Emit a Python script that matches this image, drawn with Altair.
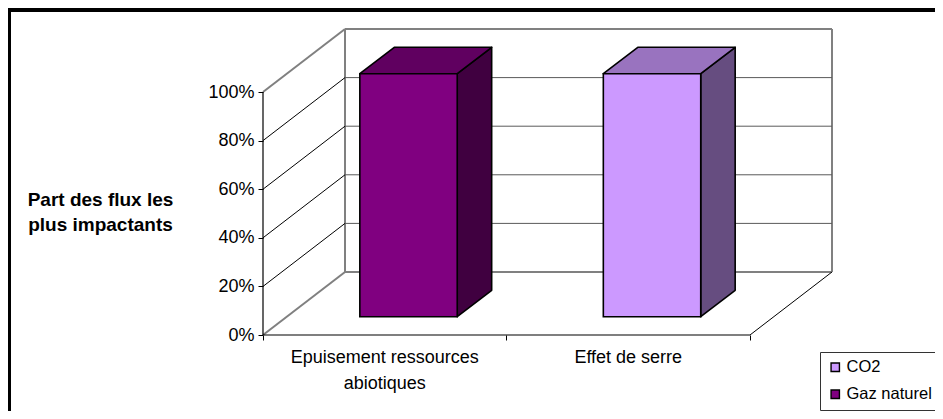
import altair as alt
import pandas as pd

# ---- chart values
categories = [["Epuisement ressources", "abiotiques"], ["Effet de serre"]]
series = ["Gaz naturel", "CO2"]
values = [100, 100]
percent_ticks = [0, 20, 40, 60, 80, 100]
legend_order = ["CO2", "Gaz naturel"]
front_colors = ["#800080", "#CC99FF"]
top_colors = ["#600060", "#9973BF"]
side_colors = ["#400040", "#664D80"]
axis_title = ["Part des flux les", "plus impactants"]

# ---- oblique projection of the 3D box onto the x / y scales
DX = 0.3368   # category units moved per unit of depth
DY = 25.93    # percent units moved per unit of depth
BAR_L, BAR_R = 0.3, 0.7
Z0, Z1 = 0.29, 0.71

FONT = "Liberation Sans"

xs = alt.Scale(domain=[0, 2 + DX], nice=False, zero=False)
ys = alt.Scale(domain=[0, 100 + DY], nice=False, zero=False)

x_axis = alt.Axis(values=[0, 1, 2], labels=False, domain=False, grid=False,
                  tickSize=5, tickColor="black", title=None)
y_axis = alt.Axis(values=percent_ticks, labelExpr="datum.value + '%'", domain=False,
                  grid=False, tickSize=5, tickColor="black", labelColor="black",
                  labelFont=FONT, labelFontSize=18, labelPadding=4,
                  title=axis_title, titleFont=FONT, titleFontSize=19,
                  titleFontWeight="bold", titleColor="black", titleAngle=0,
                  titleAlign="center", titleBaseline="middle",
                  titleX=-163, titleY=170, titleLineHeight=25)


def px(x, z):
    return x + DX * z


def py(y, z):
    return y + DY * z


front, side, top = [], [], []
for i, (name, v) in enumerate(zip(series, values)):
    l, r = i + BAR_L, i + BAR_R
    front.append(dict(series=name, x=px(l, Z0), x2=px(r, Z0), y=py(v, Z0), y2=py(0, Z0)))
    for z in (Z0, Z1):
        side.append(dict(bar=i, fill=side_colors[i], x=px(r, z), y=py(v, z), y2=py(0, z)))
        top.append(dict(bar=i, fill=top_colors[i], y=py(v, z), x=px(l, z), x2=px(r, z)))


def X(f="x"):
    return alt.X(f"{f}:Q", scale=xs, axis=x_axis, title=None)


def Y(f="y"):
    return alt.Y(f"{f}:Q", scale=ys, axis=y_axis)


def rules(rows, color, width):
    df = pd.DataFrame(rows, columns=["x", "y", "x2", "y2"])
    return alt.Chart(df).mark_rule(color=color, strokeWidth=width).encode(
        x=X(), y=Y(), x2="x2:Q", y2="y2:Q"
    )


back_wall = rules(
    [[px(0, 1), py(0, 1), px(2, 1), py(0, 1)],
     [px(0, 1), py(100, 1), px(2, 1), py(100, 1)],
     [px(0, 1), py(0, 1), px(0, 1), py(100, 1)],
     [px(2, 1), py(0, 1), px(2, 1), py(100, 1)],
     [0, 0, px(0, 1), py(0, 1)],
     [0, 100, px(0, 1), py(100, 1)]],
    "#808080", 2)
back_grid = rules([[px(0, 1), py(p, 1), px(2, 1), py(p, 1)] for p in percent_ticks[1:-1]],
                  "#5a5a5a", 1)
side_grid = rules([[0, p, px(0, 1), py(p, 1)] for p in percent_ticks[1:-1]]
                  + [[2, 0, px(2, 1), py(0, 1)]], "black", 1)
axis_lines = rules([[0, 0, 2, 0], [0, 0, 0, 100]], "black", 1.2)

side_faces = alt.Chart(pd.DataFrame(side)).mark_area(
    orient="vertical", stroke="black", strokeWidth=1.6, strokeJoin="round"
).encode(x=X(), y=Y(), y2="y2:Q", detail="bar:N", fill=alt.Fill("fill:N", scale=None))

top_faces = alt.Chart(pd.DataFrame(top)).mark_area(
    orient="horizontal", stroke="black", strokeWidth=1.6, strokeJoin="round"
).encode(y=Y(), x=X(), x2="x2:Q", detail="bar:N", fill=alt.Fill("fill:N", scale=None))

front_faces = alt.Chart(pd.DataFrame(front)).mark_rect(
    stroke="black", strokeWidth=1.6
).encode(
    x=X(), x2="x2:Q", y=Y(), y2="y2:Q",
    fill=alt.Fill(
        "series:N",
        scale=alt.Scale(domain=legend_order, range=[front_colors[1], front_colors[0]]),
        legend=alt.Legend(
            orient="none", legendX=557, legendY=323, title=None, padding=7,
            strokeColor="#333333", fillColor="white", symbolType="square", symbolSize=70,
            symbolStrokeColor="black", symbolStrokeWidth=1.4, labelFont=FONT,
            labelFontSize=16.5, labelColor="black", rowPadding=10, labelOffset=3,
        ),
    ),
)

cat_df = pd.DataFrame({"x": [i + 0.5 for i in range(len(categories))], "y": [0, 0],
                       "label": categories})
cat_labels = alt.Chart(cat_df).mark_text(
    font=FONT, fontSize=18, color="black", baseline="top", align="center", dy=14, lineHeight=26
).encode(x=X(), y=Y(), text="label:N")

frame_top = alt.Chart(pd.DataFrame({"a": [1]})).mark_rule(color="black", strokeWidth=4).encode(
    x=alt.value(-263), x2=alt.value(690), y=alt.value(-19))
frame_left = alt.Chart(pd.DataFrame({"a": [1]})).mark_rule(color="black", strokeWidth=4).encode(
    x=alt.value(-254), y=alt.value(-29), y2=alt.value(400))

chart = alt.layer(
    back_wall, back_grid, side_grid, axis_lines,
    side_faces, top_faces, front_faces, cat_labels, frame_top, frame_left,
).properties(
    width=569, height=306,
    padding={"left": 255, "top": 21, "right": 103, "bottom": 76},
    autosize=alt.AutoSizeParams(type="none"),
    background="white",
).configure_view(stroke=None)

chart.save("out.html", embed_options={"renderer": "svg", "actions": False})
